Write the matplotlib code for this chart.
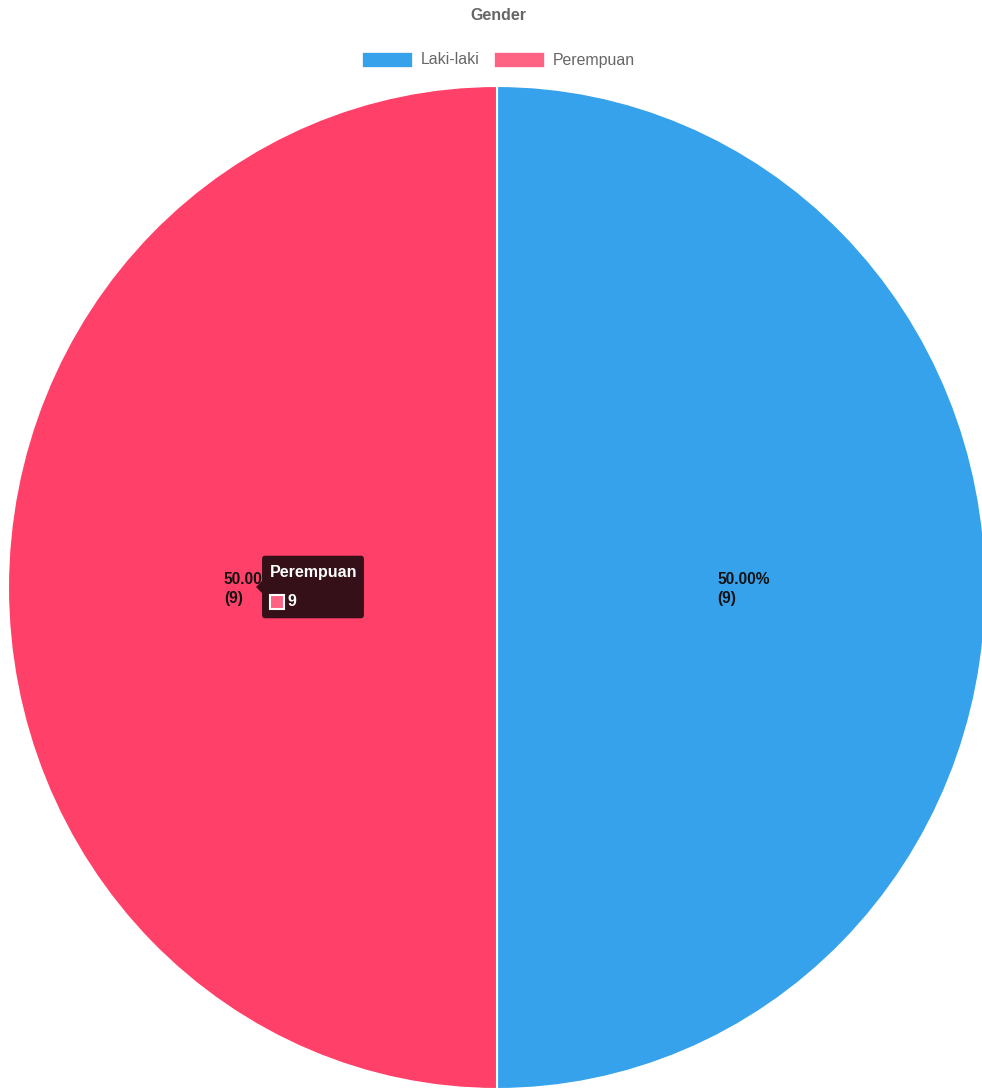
import numpy as np
import matplotlib.pyplot as plt
from matplotlib.patches import Rectangle, FancyBboxPatch, Polygon

plt.rcParams['font.family'] = ['Liberation Sans', 'DejaVu Sans']

# gender data
labels = ['Laki-laki', 'Perempuan']
values = [9, 9]
slice_colors = ['#36A2EB', '#FF4069']
legend_colors = ['#36A2EB', '#FF6384']

W, H = 982, 1091
fig = plt.figure(figsize=(W / 100, H / 100), dpi=100)


def fx(px):
    return px / W


def fy(py):
    return 1 - py / H


# pie area (slightly wider than the canvas, so the right edge is cut)
ax = fig.add_axes([fx(8), fy(1089), fx(978), 1003 / H])
wedges, _ = ax.pie(values, colors=slice_colors, startangle=90, counterclock=False,
                   radius=1, wedgeprops=dict(edgecolor='white', linewidth=1.5))
ax.set_aspect('auto')
ax.set_xlim(-1, 1)
ax.set_ylim(-1, 1)
ax.axis('off')

total = sum(values)
for w, v in zip(wedges, values):
    ang = np.deg2rad((w.theta1 + w.theta2) / 2)
    ax.text(0.505 * np.cos(ang), 0.5 * np.sin(ang) - 0.003,
            '%.2f%%\n(%d)' % (v / total * 100, v),
            ha='center', va='center', multialignment='left',
            fontsize=11.2, fontweight='bold', color='#111111', linespacing=1.4)

# title
fig.text(fx(498), fy(15), 'Gender', ha='center', va='center',
         fontsize=11.5, fontweight='bold', color='#666666')

# legend
lx = [362, 494]
for x0, lab, c in zip(lx, labels, legend_colors):
    fig.patches.append(Rectangle((fx(x0), fy(67)), fx(50), 15 / H, facecolor=c,
                                 edgecolor='white', linewidth=0.5,
                                 transform=fig.transFigure, figure=fig))
    fig.text(fx(x0 + 59), fy(60), lab, ha='left', va='center',
             fontsize=11.4, color='#666666')

# hover tooltip on the second slice
tip_color = '#361018'
fig.patches.append(FancyBboxPatch((fx(265), fy(615)), fx(96), 56 / H,
                                  boxstyle='round,pad=0.003', facecolor=tip_color,
                                  edgecolor='none', transform=fig.transFigure,
                                  figure=fig))
fig.patches.append(Polygon([(fx(256), fy(587)), (fx(263), fy(580)), (fx(263), fy(594))],
                           closed=True, facecolor=tip_color, edgecolor='none',
                           transform=fig.transFigure, figure=fig))
fig.text(fx(270), fy(573), labels[1], ha='left', va='center', fontsize=11.5,
         fontweight='bold', color='white')
fig.patches.append(Rectangle((fx(270), fy(609)), fx(14), 14 / H,
                             facecolor=legend_colors[1], edgecolor='white',
                             linewidth=1.5, transform=fig.transFigure, figure=fig))
fig.text(fx(287), fy(601), str(values[1]), ha='left', va='center', fontsize=11.5,
         fontweight='bold', color='white')

fig.savefig('out.png', dpi=100)
